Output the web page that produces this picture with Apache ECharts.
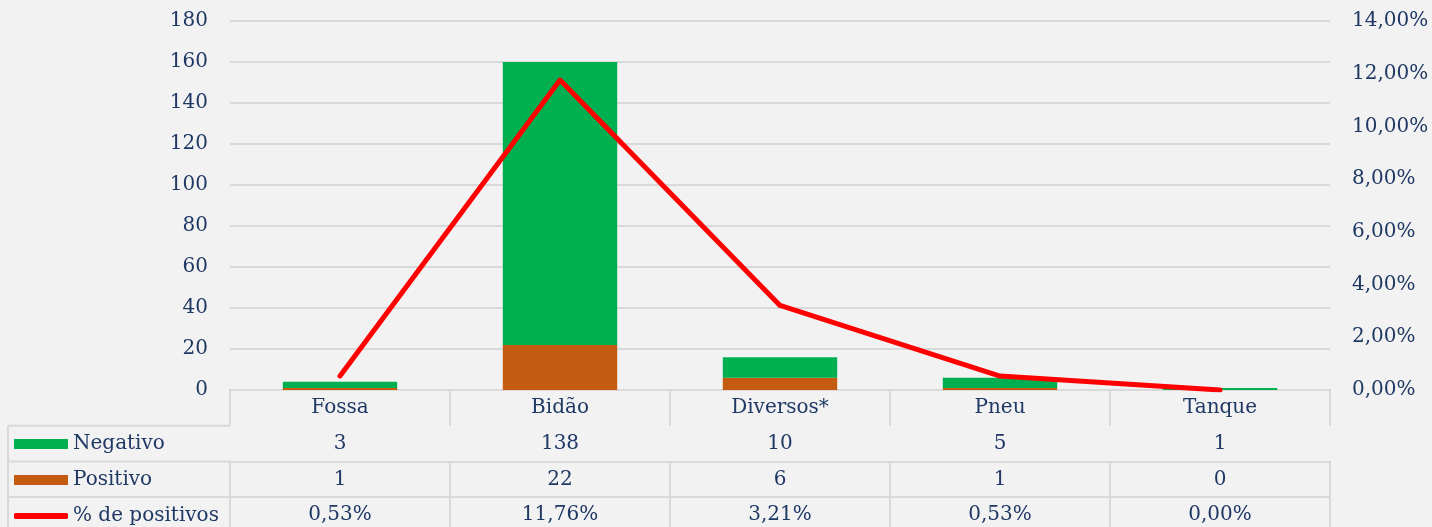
<!DOCTYPE html>
<html><head><meta charset="utf-8">
<script src="https://cdn.jsdelivr.net/npm/echarts@6/dist/echarts.min.js"></script>
<style>html,body{margin:0;padding:0;background:#F2F2F2;}#c{width:1432px;height:527px;}</style>
</head><body><div id="c"></div>
<script>
const categories = ['Fossa', 'Bidão', 'Diversos*', 'Pneu', 'Tanque'];
const negativo = [3, 138, 10, 5, 1];
const positivo = [1, 22, 6, 1, 0];
const pctPositivos = [0.53, 11.76, 3.21, 0.53, 0.00];
const leftTicks = { min: 0, max: 180, interval: 20 };
const rightTicks = { min: 0, max: 14, interval: 2 };

const FONT = 'DejaVu Serif';
const TXT = '#1F3864';
const GRID = '#D9D9D9';
const ROW = 35.7;
const fmtPct = v => v.toFixed(2).replace('.', ',') + '%';
const txt = { color: TXT, fontFamily: FONT, fontSize: 20 };

function rowAxis(i, labels) {
  return {
    type: 'category', data: categories, position: 'bottom', offset: ROW * i,
    axisLine: { show: true, lineStyle: { color: GRID, width: 2 } },
    axisTick: { show: true, interval: 0, length: ROW, lineStyle: { color: GRID, width: 2 } },
    axisLabel: Object.assign({ interval: 0, margin: 8, formatter: (v, idx) => labels[idx] }, txt),
    splitLine: { show: false }
  };
}

const chart = echarts.init(document.getElementById('c'));
const legendBase = { orient: 'vertical', left: 9, itemWidth: 54, itemGap: 4, textStyle: txt, selectedMode: false };
chart.setOption({
  backgroundColor: '#F2F2F2',
  animation: false,
  grid: { left: 230, right: 102, top: 21, bottom: 137 },
  legend: [
    Object.assign({}, legendBase, { top: 429, itemHeight: 10, data: [{ name: 'Negativo', icon: 'rect' }] }),
    Object.assign({}, legendBase, { top: 465, itemHeight: 10, data: [{ name: 'Positivo', icon: 'rect' }] }),
    Object.assign({}, legendBase, { top: 501, itemHeight: 6, data: [{ name: '% de positivos', icon: 'roundRect', itemStyle: { color: '#FF0000' } }] })
  ],
  xAxis: [
    rowAxis(0, categories),
    rowAxis(1, negativo.map(String)),
    rowAxis(2, positivo.map(String)),
    rowAxis(3, pctPositivos.map(fmtPct))
  ],
  yAxis: [
    { type: 'value', min: leftTicks.min, max: leftTicks.max, interval: leftTicks.interval,
      axisLine: { show: false }, axisTick: { show: false },
      axisLabel: Object.assign({ margin: 22 }, txt),
      splitLine: { lineStyle: { color: GRID, width: 2 } } },
    { type: 'value', min: rightTicks.min, max: rightTicks.max, interval: rightTicks.interval,
      axisLine: { show: false }, axisTick: { show: false },
      axisLabel: Object.assign({ margin: 22, formatter: v => fmtPct(v) }, txt),
      splitLine: { show: false } }
  ],
  graphic: [
    { type: 'line', shape: { x1: 8, y1: 390 + ROW, x2: 230, y2: 390 + ROW }, style: { stroke: GRID, lineWidth: 2 } },
    { type: 'line', shape: { x1: 8, y1: 390 + 2 * ROW, x2: 230, y2: 390 + 2 * ROW }, style: { stroke: GRID, lineWidth: 2 } },
    { type: 'line', shape: { x1: 8, y1: 390 + 3 * ROW, x2: 230, y2: 390 + 3 * ROW }, style: { stroke: GRID, lineWidth: 2 } },
    { type: 'line', shape: { x1: 8, y1: 390 + ROW, x2: 8, y2: 527 }, style: { stroke: GRID, lineWidth: 2 } }
  ],
  series: [
    { name: 'Positivo', type: 'bar', stack: 's', data: positivo, barWidth: '52%', itemStyle: { color: '#C55A11' } },
    { name: 'Negativo', type: 'bar', stack: 's', data: negativo, barWidth: '52%', itemStyle: { color: '#00B050' } },
    { name: '% de positivos', type: 'line', yAxisIndex: 1, data: pctPositivos, symbol: 'none',
      lineStyle: { color: '#FF0000', width: 5, cap: 'round', join: 'round' }, itemStyle: { color: '#FF0000' }, z: 5 }
  ]
});
</script></body></html>
